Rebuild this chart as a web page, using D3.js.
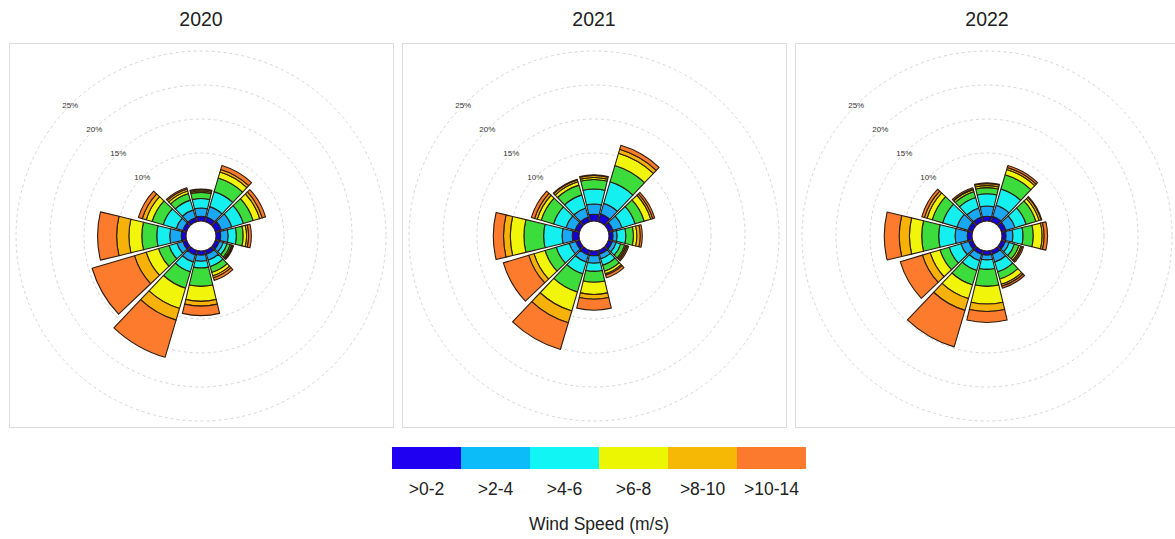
<!DOCTYPE html>
<html>
<head>
<meta charset="utf-8">
<script src="https://cdn.jsdelivr.net/npm/d3@7"></script>
<style>
  body { margin: 0; background: #fff; }
  svg { display: block; font-family: "Liberation Sans", Arial, sans-serif; }
</style>
</head>
<body>
<div id="chart"></div>
<script>
// wind direction sectors (degrees, clockwise from north)
const directions = [0, 30, 60, 90, 120, 150, 180, 210, 240, 270, 300, 330];
const years = ["2020", "2021", "2022"];

// legend
const speedLabels = [">0-2", ">2-4", ">4-6", ">6-8", ">8-10", ">10-14"];
const legendColors = ["#1f00f0", "#0cbcf8", "#12f5f5", "#ecf502", "#f6b805", "#fb7a2e"];

// colours of the stacked bands inside each sector (inner -> outer)
const bandColors = ["#1400d2", "#18a8f6", "#14f0f0", "#3ddc3d", "#f0f50a", "#f7b20a", "#fc7b2d"];

// frequency (%) per band, one row per direction (N, NNE, ... NNW)
const freq2020 = [
  [0.7, 1.2, 1.4, 0.9, 0.2, 0.2, 0.1],
  [0.7, 1.6, 2.3, 2.1, 0.9, 0.4, 0.6],
  [0.9, 1.6, 1.8, 1.5, 1.0, 0.4, 0.5],
  [0.7, 1.1, 1.2, 1.0, 0.5, 0.3, 0.4],
  [0.6, 0.6, 0.6, 0.5, 0.2, 0.15, 0.15],
  [0.6, 0.9, 1.0, 0.9, 0.5, 0.3, 0.4],
  [0.6, 0.9, 1.0, 2.7, 2.2, 0.7, 1.4],
  [0.7, 1.1, 1.5, 2.5, 3.1, 1.8, 5.7],
  [0.6, 0.9, 1.2, 1.6, 1.9, 1.8, 6.5],
  [0.7, 1.7, 1.9, 2.2, 1.9, 1.8, 2.8],
  [0.6, 1.0, 2.0, 1.7, 0.9, 0.6, 0.6],
  [0.6, 1.2, 1.5, 1.0, 0.4, 0.3, 0.2]
];
const freq2021 = [
  [1.0, 1.5, 2.2, 1.4, 0.3, 0.3, 0.1],
  [1.2, 1.6, 3.3, 2.5, 1.9, 0.6, 0.6],
  [0.7, 1.4, 2.0, 1.4, 1.0, 0.3, 0.3],
  [0.6, 0.6, 1.3, 1.1, 0.5, 0.5, 0.3],
  [0.6, 0.6, 0.7, 0.6, 0.2, 0.2, 0.2],
  [0.6, 0.7, 1.0, 0.9, 0.4, 0.2, 0.4],
  [0.7, 1.1, 1.2, 1.6, 1.8, 0.7, 1.6],
  [0.7, 1.1, 1.8, 2.8, 2.9, 1.8, 4.1],
  [0.6, 1.0, 2.0, 1.7, 1.7, 0.8, 3.9],
  [1.0, 1.5, 2.7, 2.9, 2.0, 1.0, 1.5],
  [0.7, 1.4, 1.9, 1.9, 0.6, 0.4, 0.5],
  [0.7, 1.4, 2.0, 1.5, 0.5, 0.3, 0.1]
];
const freq2022 = [
  [0.7, 1.5, 1.8, 0.9, 0.3, 0.3, 0.1],
  [0.8, 1.7, 2.5, 2.2, 0.8, 0.3, 0.3],
  [0.7, 1.4, 1.7, 1.5, 0.5, 0.3, 0.1],
  [0.6, 1.0, 1.5, 1.5, 1.3, 0.3, 0.5],
  [0.6, 0.6, 0.8, 0.7, 0.3, 0.2, 0.2],
  [0.6, 1.2, 1.5, 1.1, 0.8, 0.3, 0.3],
  [0.6, 0.7, 1.4, 2.5, 2.6, 1.1, 1.6],
  [0.6, 1.0, 1.5, 2.2, 2.1, 1.8, 5.6],
  [0.6, 1.2, 1.8, 1.4, 1.5, 1.2, 3.4],
  [0.7, 1.8, 2.4, 2.5, 1.8, 1.5, 2.2],
  [0.7, 1.7, 2.2, 1.6, 0.8, 0.4, 0.4],
  [0.7, 1.4, 1.6, 0.9, 0.3, 0.1, 0.2]
];
const freqByYear = [freq2020, freq2021, freq2022];

const gridTicks = [10, 15, 20, 25];

const width = 1175, height = 539;
const panelW = 384, panelH = 384, panelTop = 43, panelStep = 393, panelLeft = 9;
const sectorHalf = 13.5; // degrees

const svg = d3.select("#chart").append("svg")
  .attr("width", width)
  .attr("height", height);

const r = d3.scaleLinear().domain([0, 25]).range([15, 185]);
const toRad = d => d * Math.PI / 180;

const arc = d3.arc()
  .innerRadius(d => r(d[0]))
  .outerRadius(d => r(d[1]))
  .startAngle(d => toRad(d.data.dir - sectorHalf))
  .endAngle(d => toRad(d.data.dir + sectorHalf));

const bandKeys = d3.range(bandColors.length);
const stack = d3.stack()
  .keys(bandKeys)
  .value((d, k) => d.values[k]);

years.forEach((year, i) => {
  const x0 = panelLeft + i * panelStep;
  const cx = x0 + panelW / 2, cy = panelTop + panelH / 2 + 1;

  svg.append("text")
    .attr("x", cx)
    .attr("y", 26)
    .attr("text-anchor", "middle")
    .attr("font-size", 19.5)
    .attr("fill", "#222")
    .text(year);

  svg.append("rect")
    .attr("x", x0 + 0.5)
    .attr("y", panelTop + 0.5)
    .attr("width", panelW)
    .attr("height", panelH)
    .attr("fill", "#fff")
    .attr("stroke", "#dcdcdc");

  const g = svg.append("g").attr("transform", `translate(${cx},${cy})`);

  // dashed grid rings
  g.selectAll("circle.grid")
    .data(gridTicks)
    .join("circle")
    .attr("class", "grid")
    .attr("r", d => r(d))
    .attr("fill", "none")
    .attr("stroke", "#d6d6d6")
    .attr("stroke-dasharray", "3,3");

  const rows = directions.map((dir, j) => ({ dir, values: freqByYear[i][j] }));
  const series = stack(rows);

  g.selectAll("g.band")
    .data(series)
    .join("g")
    .attr("class", "band")
    .attr("fill", s => bandColors[s.key])
    .selectAll("path")
    .data(s => s)
    .join("path")
    .attr("d", arc)
    .attr("stroke", "#2e1d10")
    .attr("stroke-width", 1.1)
    .attr("stroke-linejoin", "round");

  // ring labels along the upper-left diagonal
  g.selectAll("text.tick")
    .data(gridTicks)
    .join("text")
    .attr("class", "tick")
    .attr("x", d => -r(d) * Math.SQRT1_2)
    .attr("y", d => -r(d) * Math.SQRT1_2 + 3)
    .attr("text-anchor", "middle")
    .attr("font-size", 8)
    .attr("fill", "#333")
    .text(d => d + "%");
});

// legend colour bar
const legendX = d3.scaleBand().domain(speedLabels).range([392, 806]);
const legend = svg.append("g");

legend.selectAll("rect")
  .data(speedLabels)
  .join("rect")
  .attr("x", d => legendX(d))
  .attr("y", 447)
  .attr("width", legendX.bandwidth())
  .attr("height", 22)
  .attr("fill", (d, k) => legendColors[k]);

legend.selectAll("text.lab")
  .data(speedLabels)
  .join("text")
  .attr("class", "lab")
  .attr("x", d => legendX(d) + legendX.bandwidth() / 2)
  .attr("y", 495)
  .attr("text-anchor", "middle")
  .attr("font-size", 17.5)
  .attr("fill", "#222")
  .text(d => d);

legend.append("text")
  .attr("x", 599)
  .attr("y", 530)
  .attr("text-anchor", "middle")
  .attr("font-size", 17.5)
  .attr("fill", "#222")
  .text("Wind Speed (m/s)");
</script>
</body>
</html>
